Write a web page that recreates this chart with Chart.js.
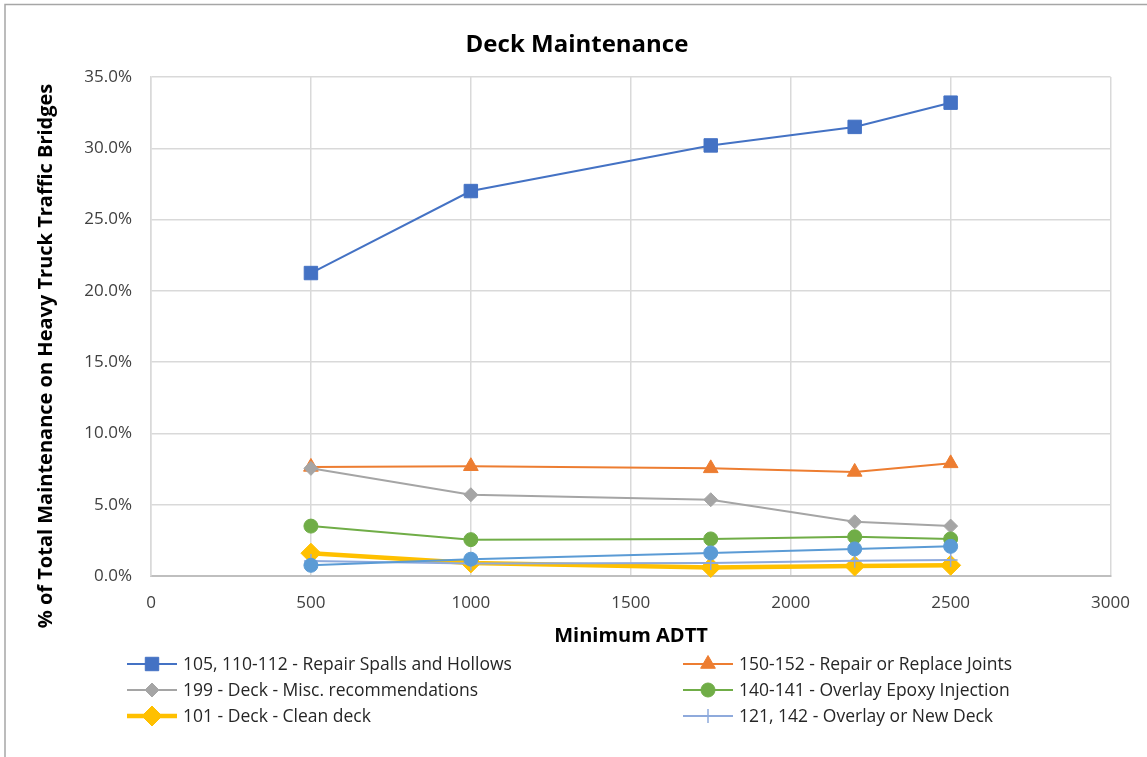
<!DOCTYPE html>
<html>
<head>
<meta charset="utf-8">
<title>Deck Maintenance</title>
<script src="https://cdn.jsdelivr.net/npm/chart.js@4.4.1/dist/chart.umd.min.js"></script>
<style>
  html, body { margin: 0; padding: 0; background: #ffffff; }
  #wrap { position: relative; width: 1147px; height: 757px; }
</style>
</head>
<body>
<div id="wrap"><canvas id="chart" width="1147" height="757"></canvas></div>
<script>
// Minimum ADTT thresholds (x values)
const minimumADTT = [500, 1000, 1750, 2200, 2500];

// Share of total maintenance on heavy truck traffic bridges, in percent
const repairSpallsHollows = [21.25, 27.0, 30.2, 31.5, 33.2];
const repairReplaceJoints = [7.65, 7.7, 7.55, 7.3, 7.9];
const deckMiscRecs = [7.55, 5.7, 5.35, 3.8, 3.5];
const overlayEpoxyInjection = [3.5, 2.55, 2.6, 2.75, 2.6];
const deckCleanDeck = [1.6, 0.92, 0.6, 0.7, 0.75];
const overlayNewDeck = [1.05, 0.88, 0.92, 1.07, 1.12];
const deckOtherItems = [0.75, 1.18, 1.62, 1.9, 2.08];

// Axis ticks
const xTicks = [0, 500, 1000, 1500, 2000, 2500, 3000];
const yTicks = [0, 5, 10, 15, 20, 25, 30, 35];

const seriesLabels = [
  '105, 110-112 - Repair Spalls and Hollows',
  '150-152 - Repair or Replace Joints',
  '199 - Deck - Misc. recommendations',
  '140-141 - Overlay Epoxy Injection',
  '101 - Deck - Clean deck',
  '121, 142 - Overlay or New Deck',
  'Deck - other items'
];

const FONT = "'Open Sans', 'Noto Sans', sans-serif";
Chart.defaults.font.family = FONT;

function pts(values) {
  return values.map((v, i) => ({ x: minimumADTT[i], y: v }));
}

function series(label, values, color, style, radius, lineWidth, extra) {
  return Object.assign({
    label: label,
    data: pts(values),
    borderColor: color,
    backgroundColor: color,
    borderWidth: lineWidth,
    pointStyle: style,
    pointRadius: radius,
    pointHoverRadius: radius,
    pointBackgroundColor: color,
    pointBorderColor: color,
    pointBorderWidth: 1,
    tension: 0,
    fill: false,
    clip: false
  }, extra || {});
}

const datasets = [
  series(seriesLabels[0], repairSpallsHollows, '#4472C4', 'rect', 9.5, 2),
  series(seriesLabels[1], repairReplaceJoints, '#ED7D31', 'triangle', 8.5, 2),
  series(seriesLabels[2], deckMiscRecs, '#A5A5A5', 'rectRot', 7, 2),
  series(seriesLabels[3], overlayEpoxyInjection, '#70AD47', 'circle', 7, 2),
  series(seriesLabels[4], deckCleanDeck, '#FFC000', 'rectRot', 10, 4.5),
  series(seriesLabels[5], overlayNewDeck, '#8FAADC', 'cross', 7, 2, { pointBorderWidth: 1.5 }),
  series(seriesLabels[6], deckOtherItems, '#5B9BD5', 'circle', 7, 2, { showInLegend: false })
];
// later series sit on top of earlier ones
datasets.forEach((d, i) => { d.order = datasets.length - i; });

function drawMarker(ctx, ds, x, y) {
  const opts = {
    pointStyle: ds.pointStyle,
    radius: ds.pointRadius,
    rotation: 0,
    borderWidth: ds.pointBorderWidth
  };
  ctx.save();
  ctx.fillStyle = ds.pointBackgroundColor;
  ctx.strokeStyle = ds.pointBorderColor;
  ctx.lineWidth = ds.pointBorderWidth;
  Chart.helpers.drawPoint(ctx, opts, x, y);
  ctx.restore();
}

// Frame, titles and the two-column legend
const decorations = {
  id: 'decorations',
  afterDraw(chart) {
    const ctx = chart.ctx;
    ctx.save();

    // outer frame
    ctx.strokeStyle = '#a6a6a6';
    ctx.lineWidth = 1.5;
    ctx.beginPath();
    ctx.moveTo(5, 800);
    ctx.lineTo(5, 4.5);
    ctx.lineTo(1200, 4.5);
    ctx.stroke();

    // chart title
    ctx.fillStyle = '#000000';
    ctx.textAlign = 'center';
    ctx.textBaseline = 'middle';
    ctx.font = "bold 24px " + FONT;
    ctx.fillText('Deck Maintenance', 577, 45);

    // x axis title
    ctx.font = "bold 20px " + FONT;
    ctx.fillText('Minimum ADTT', 631, 636);

    // y axis title
    ctx.save();
    ctx.translate(46, 356);
    ctx.rotate(-Math.PI / 2);
    ctx.font = "bold 20px " + FONT;
    ctx.fillText('% of Total Maintenance on Heavy Truck Traffic Bridges', 0, 0);
    ctx.restore();

    // legend
    const cols = [127, 683];
    const rows = [664, 690, 716];
    ctx.font = "17.5px " + FONT;
    ctx.textAlign = 'left';
    ctx.fillStyle = '#262626';
    const shown = chart.data.datasets.filter(d => d.showInLegend !== false);
    shown.forEach((ds, i) => {
      const x0 = cols[i % 2];
      const y = rows[Math.floor(i / 2)];
      ctx.save();
      ctx.strokeStyle = ds.borderColor;
      ctx.lineWidth = ds.borderWidth;
      ctx.beginPath();
      ctx.moveTo(x0, y);
      ctx.lineTo(x0 + 50, y);
      ctx.stroke();
      ctx.restore();
      drawMarker(ctx, ds, x0 + 25, y);
      ctx.fillStyle = '#262626';
      ctx.fillText(ds.label, x0 + 56, y + 1);
    });

    ctx.restore();
  }
};

new Chart(document.getElementById('chart'), {
  type: 'line',
  data: { datasets: datasets },
  options: {
    responsive: false,
    animation: false,
    events: [],
    layout: { padding: { left: 0, right: 35, top: 77, bottom: 0 } },
    plugins: {
      legend: { display: false },
      title: { display: false },
      tooltip: { enabled: false }
    },
    scales: {
      x: {
        type: 'linear',
        min: xTicks[0],
        max: xTicks[xTicks.length - 1],
        afterFit(scale) { scale.height = 757 - 576; },
        afterBuildTicks(scale) { scale.ticks = xTicks.map(v => ({ value: v })); },
        ticks: {
          padding: 17,
          color: '#404040',
          font: { size: 17 },
          callback: v => String(v)
        },
        grid: { color: '#d9d9d9', lineWidth: 1.5, drawTicks: false },
        border: { color: '#bfbfbf', width: 2 }
      },
      y: {
        type: 'linear',
        min: yTicks[0],
        max: yTicks[yTicks.length - 1],
        afterFit(scale) { scale.width = 151; },
        afterBuildTicks(scale) { scale.ticks = yTicks.map(v => ({ value: v })); },
        ticks: {
          padding: 19,
          color: '#404040',
          font: { size: 17 },
          callback: v => v.toFixed(1) + '%'
        },
        grid: { color: '#d9d9d9', lineWidth: 1.5, drawTicks: false },
        border: { color: '#d9d9d9', width: 1.5 }
      }
    }
  },
  plugins: [decorations]
});
</script>
</body>
</html>
